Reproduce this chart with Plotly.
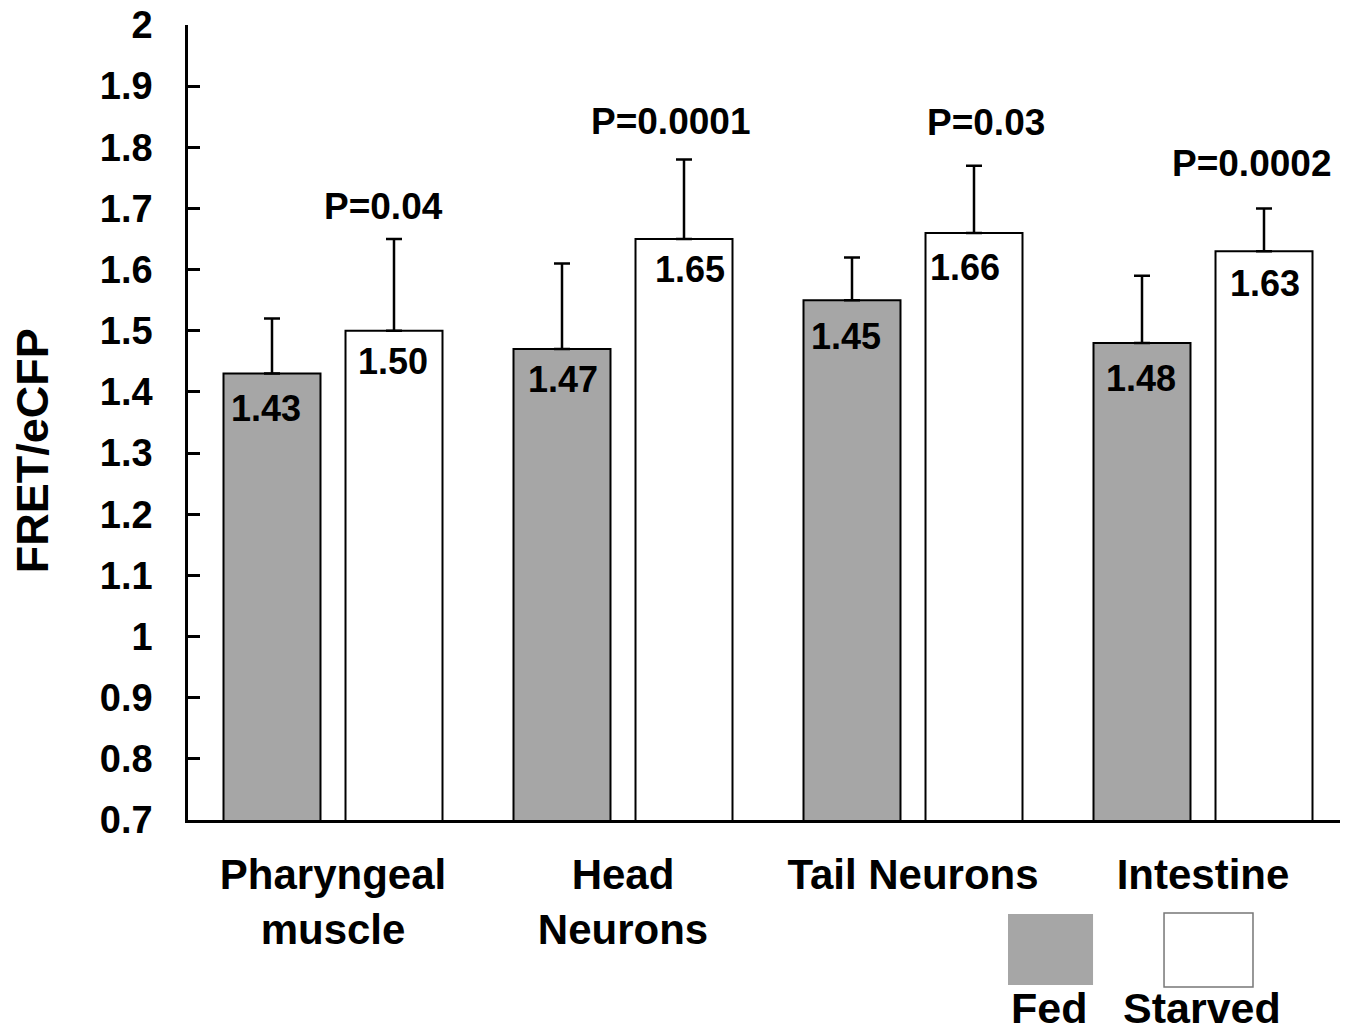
import plotly.graph_objects as go

# ---- data ----
categories = ["Pharyngeal<br>muscle", "Head<br>Neurons", "Tail Neurons", "Intestine"]
series_names = ["Fed", "Starved"]
fed_values = [1.43, 1.47, 1.55, 1.48]
starved_values = [1.50, 1.65, 1.66, 1.63]
fed_err_top = [1.52, 1.61, 1.62, 1.59]
starved_err_top = [1.65, 1.78, 1.77, 1.70]
fed_labels = ["1.43", "1.47", "1.45", "1.48"]
starved_labels = ["1.50", "1.65", "1.66", "1.63"]
p_labels = ["P=0.04", "P=0.0001", "P=0.03", "P=0.0002"]
p_label_y = [1.704, 1.842, 1.841, 1.773]
y_tick_vals = [0.7, 0.8, 0.9, 1.0, 1.1, 1.2, 1.3, 1.4, 1.5, 1.6, 1.7, 1.8, 1.9, 2.0]
y_tick_text = ["0.7", "0.8", "0.9", "1", "1.1", "1.2", "1.3", "1.4", "1.5", "1.6", "1.7", "1.8", "1.9", "2"]

# ---- styling ----
FONT = "Liberation Sans, Arial, sans-serif"
GRAY = "#a6a6a6"
fed_label_xshift = [-67, -60, -67, -62]
starved_label_xshift = [60, 67, 52, 62]
fed_label_yshift = [-35, -30, -36, -35]
starved_label_yshift = [-31, -30, -35, -32]
p_xshift = [50, 47, 73, 48]

fig = go.Figure()
fig.add_trace(go.Bar(
    name=series_names[0], x=categories, y=fed_values,
    marker=dict(color=GRAY, line=dict(color="black", width=2)),
    error_y=dict(type="data", symmetric=False,
                 array=[t - v for t, v in zip(fed_err_top, fed_values)],
                 arrayminus=[0] * len(fed_values),
                 color="black", thickness=2.5, width=8),
    showlegend=False,
))
fig.add_trace(go.Bar(
    name=series_names[1], x=categories, y=starved_values,
    marker=dict(color="white", line=dict(color="black", width=2)),
    error_y=dict(type="data", symmetric=False,
                 array=[t - v for t, v in zip(starved_err_top, starved_values)],
                 arrayminus=[0] * len(starved_values),
                 color="black", thickness=2.5, width=8),
    showlegend=False,
))

annotations = []
for i, c in enumerate(categories):
    annotations.append(dict(x=c, y=fed_values[i], text=fed_labels[i], showarrow=False,
                            xshift=fed_label_xshift[i], yshift=fed_label_yshift[i],
                            yanchor="middle", font=dict(family=FONT, size=36, color="black", weight="bold")))
    annotations.append(dict(x=c, y=starved_values[i], text=starved_labels[i], showarrow=False,
                            xshift=starved_label_xshift[i], yshift=starved_label_yshift[i],
                            yanchor="middle", font=dict(family=FONT, size=36, color="black", weight="bold")))
    annotations.append(dict(x=c, y=p_label_y[i], text=p_labels[i], showarrow=False,
                            xshift=p_xshift[i], yanchor="middle",
                            font=dict(family=FONT, size=37, color="black", weight="bold")))

# y axis title
annotations.append(dict(xref="paper", yref="paper", x=-0.1345, y=0.465, text="FRET/eCFP",
                        textangle=-90, showarrow=False, xanchor="center", yanchor="middle",
                        font=dict(family=FONT, size=45, color="black", weight="bold")))
# custom legend labels
annotations.append(dict(xref="paper", yref="paper", x=0.7423, y=-0.2365, text=series_names[0],
                        showarrow=False, xanchor="center", yanchor="middle",
                        font=dict(family=FONT, size=43, color="black", weight="bold")))
annotations.append(dict(xref="paper", yref="paper", x=0.8740, y=-0.2365, text=series_names[1],
                        showarrow=False, xanchor="center", yanchor="middle",
                        font=dict(family=FONT, size=43, color="black", weight="bold")))

shapes = [
    dict(type="rect", xref="paper", yref="paper", x0=0.7069, x1=0.7802, y0=-0.2075, y1=-0.1182,
         fillcolor=GRAY, line=dict(width=0)),
    dict(type="rect", xref="paper", yref="paper", x0=0.8414, x1=0.9181, y0=-0.2100, y1=-0.1170,
         fillcolor="white", line=dict(color="#777777", width=1.5)),
]

fig.update_layout(
    width=1340, height=1021,
    margin=dict(l=180, r=0, t=17, b=209, autoexpand=False),
    plot_bgcolor="white", paper_bgcolor="white",
    barmode="group", bargap=0.1586, bargroupgap=0.205,
    annotations=annotations, shapes=shapes,
    font=dict(family=FONT, color="black"),
)
fig.update_xaxes(
    showline=True, linecolor="black", linewidth=2.5,
    ticks="", showgrid=False, zeroline=False, automargin=False,
    tickfont=dict(family=FONT, size=42, color="black", weight="bold"),
    ticklabelstandoff=16,
)
fig.update_yaxes(
    range=[0.7, 2.0], showline=True, linecolor="black", linewidth=2.5,
    tickvals=y_tick_vals, ticktext=y_tick_text, automargin=False,
    ticks="inside", ticklen=12, tickwidth=2.5, tickcolor="black",
    showgrid=False, zeroline=False, ticklabeloverflow="allow",
    tickfont=dict(family=FONT, size=38, color="black", weight="bold"),
    ticklabelstandoff=25,
)

fig.write_html("out.html")
